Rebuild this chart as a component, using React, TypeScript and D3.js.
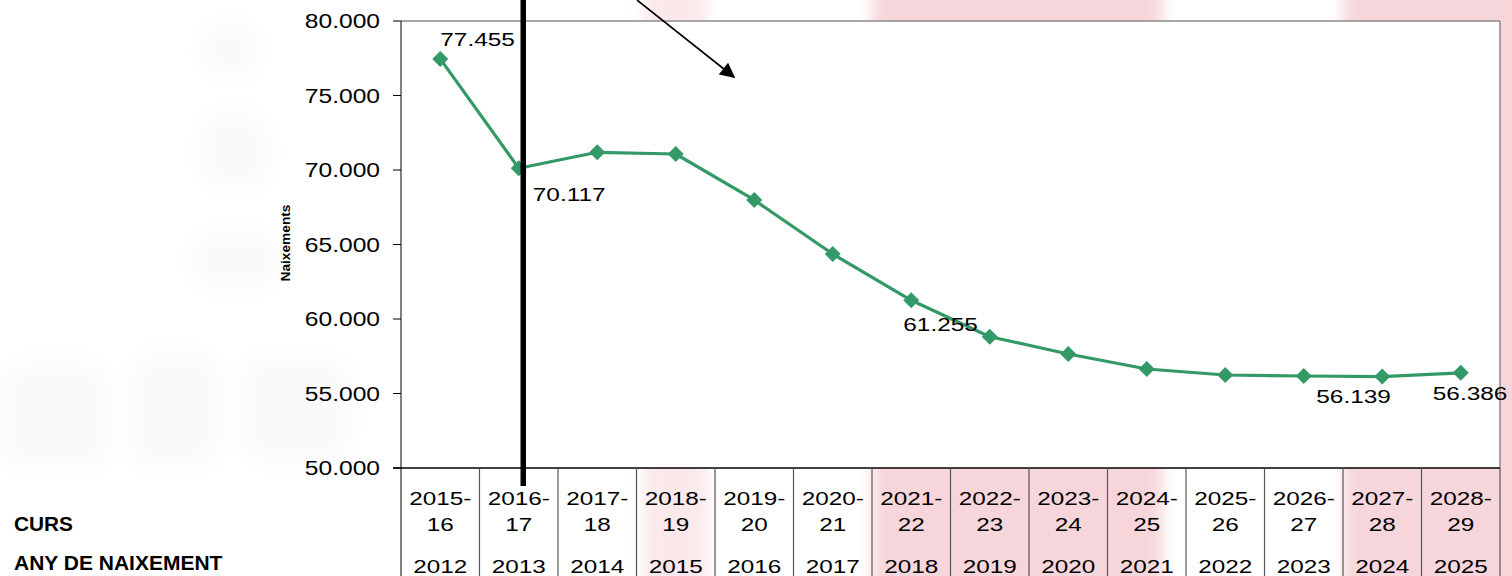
import React from 'react';
import * as d3 from 'd3';

const courses = ['2015-16', '2016-17', '2017-18', '2018-19', '2019-20', '2020-21', '2021-22', '2022-23', '2023-24', '2024-25', '2025-26', '2026-27', '2027-28', '2028-29'];
const birthYears = ['2012', '2013', '2014', '2015', '2016', '2017', '2018', '2019', '2020', '2021', '2022', '2023', '2024', '2025'];
const births = [77455, 70117, 71188, 71074, 67987, 64362, 61255, 58812, 57651, 56644, 56242, 56174, 56139, 56386];
const yTicks = [50000, 55000, 60000, 65000, 70000, 75000, 80000];
const labelledIdx = [0, 1, 6, 12, 13];
const yDomain = [50000, 80000];
const axisTitle = 'Naixements';
const rowTitles = ['CURS', 'ANY DE NAIXEMENT'];

// layout
const W = 1512, H = 576;
const L = 401, R = 1500, T = 21, B = 468;
const FONT = "'Liberation Sans', Arial, Helvetica, sans-serif";
const GREEN = '#339966';
const labelOffsets: Record<number, [number, number]> = {
  0: [0, -13], 1: [14, 33], 6: [-8, 31], 12: [-66, 26], 13: [-28, 27],
};
const pinkBands = [
  { a: 3.1, b: 3.9, o: 0.55 },
  { a: 6.0, b: 9.7, o: 1 },
  { a: 12.0, b: 14.4, o: 1 },
];
// faint watermark blobs (left background)
const blobs = [
  { x: 0, y: 360, w: 110, h: 110 },
  { x: 130, y: 350, w: 90, h: 120 },
  { x: 240, y: 355, w: 110, h: 110 },
  { x: 200, y: 20, w: 60, h: 60 },
  { x: 200, y: 110, w: 70, h: 80 },
  { x: 190, y: 230, w: 90, h: 60 },
];

const locale = d3.formatLocale({ decimal: ',', thousands: '.', grouping: [3], currency: ['', '€'] });
const fmt = locale.format(',.0f');

function SText({ x, y, sx, size, anchor = 'middle', weight = 'normal', children }: any) {
  return (
    <g transform={`translate(${x},${y}) scale(${sx},1)`}>
      <text x={0} y={0} fontSize={size} fontFamily={FONT} fontWeight={weight} textAnchor={anchor} fill="#000">{children}</text>
    </g>
  );
}

export default function App() {
  const x = d3.scaleBand<string>().domain(courses).range([L, R]).paddingInner(0).paddingOuter(0);
  const bw = x.bandwidth();
  const cx = (i: number) => (x(courses[i]) as number) + bw / 2;
  const y = d3.scaleLinear().domain(yDomain).range([B, T]);
  const line = d3.line<number>().x((_, i) => cx(i)).y((d) => y(d));
  const dpath = (s: number) => `M0,${-s}L${s},0L0,${s}L${-s},0Z`;

  return (
    <svg width={W} height={H} style={{ position: 'absolute', left: 0, top: 0, background: '#fff' }}>
      <defs>
        <filter id="blur" x="-50%" y="-50%" width="200%" height="200%">
          <feGaussianBlur stdDeviation="7" />
        </filter>
        <filter id="blur2" x="-50%" y="-50%" width="200%" height="200%">
          <feGaussianBlur stdDeviation="12" />
        </filter>
        <marker id="arrow" viewBox="0 0 10 10" refX="9" refY="5" markerWidth="17" markerHeight="15" markerUnits="userSpaceOnUse" orient="auto">
          <path d="M0,0L10,5L0,10Z" fill="#000" />
        </marker>
      </defs>
      <rect x={0} y={0} width={W} height={H} fill="#fff" />
      {blobs.map((b, i) => (
        <rect key={i} x={b.x} y={b.y} width={b.w} height={b.h} rx={30} fill="#000" opacity={0.02} filter="url(#blur2)" />
      ))}
      {pinkBands.map((p, i) => (
        <rect key={i} x={L + p.a * bw} y={-20} width={(p.b - p.a) * bw} height={H + 40} fill="#f5c9cf" opacity={p.o * 0.75} filter="url(#blur)" />
      ))}
      <rect x={R} y={0} width={W - R} height={H} fill="#f7d5d9" />
      {/* plot area */}
      <rect x={L} y={T} width={R - L} height={B - T} fill="#fff" />
      <line x1={L} x2={R} y1={T} y2={T} stroke="#8a8a8a" strokeWidth={1.5} />
      <line x1={R} x2={R} y1={T} y2={B} stroke="#8a8a8a" strokeWidth={1.5} />
      {/* y axis */}
      <line x1={L} x2={L} y1={T} y2={576} stroke="#000" strokeWidth={1} />
      {yTicks.map((t) => (
        <g key={t}>
          <line x1={L - 8} x2={L} y1={y(t)} y2={y(t)} stroke="#000" strokeWidth={1} />
          <SText x={380} y={y(t) + 7} sx={1.23} size={20} anchor="end">{fmt(t)}</SText>
        </g>
      ))}
      <g transform={`translate(290,243) rotate(-90)`}>
        <text x={0} y={0} fontSize={12} fontWeight="bold" fontFamily={FONT} textAnchor="middle" textLength={77} lengthAdjust="spacingAndGlyphs">{axisTitle}</text>
      </g>
      {/* bottom axis & table */}
      <line x1={L - 8} x2={R} y1={B} y2={B} stroke="#000" strokeWidth={1.5} />
      {courses.map((c, i) => {
        const x0 = x(c) as number;
        const [a, b] = c.split('-');
        return (
          <g key={c}>
            {i > 0 && <line x1={x0} x2={x0} y1={B} y2={H} stroke="#555" strokeWidth={1.2} />}
            <SText x={cx(i)} y={505} sx={1.35} size={18}>{a + '-'}</SText>
            <SText x={cx(i)} y={531} sx={1.35} size={18}>{b}</SText>
            <SText x={cx(i)} y={573} sx={1.35} size={18}>{birthYears[i]}</SText>
          </g>
        );
      })}
      <line x1={R} x2={R} y1={B} y2={H} stroke="#555" strokeWidth={1.2} />
      <SText x={14} y={531} sx={1.04} size={20} anchor="start" weight="bold">{rowTitles[0]}</SText>
      <SText x={14} y={570} sx={1.05} size={20} anchor="start" weight="bold">{rowTitles[1]}</SText>
      {/* series */}
      <path d={line(births) || ''} fill="none" stroke={GREEN} strokeWidth={3.2} strokeLinejoin="round" />
      {births.map((v, i) => (
        <path key={i} d={dpath(8)} transform={`translate(${cx(i)},${y(v)})`} fill={GREEN} />
      ))}
      {labelledIdx.map((i) => (
        <SText key={i} x={cx(i) + labelOffsets[i][0]} y={y(births[i]) + labelOffsets[i][1]} sx={1.32} size={18.5} anchor="start">{fmt(births[i])}</SText>
      ))}
      {/* annotations */}
      <rect x={520.5} y={0} width={5.5} height={486} fill="#000" />
      <line x1={637} y1={0} x2={734} y2={77} stroke="#000" strokeWidth={1.6} markerEnd="url(#arrow)" />
    </svg>
  );
}
